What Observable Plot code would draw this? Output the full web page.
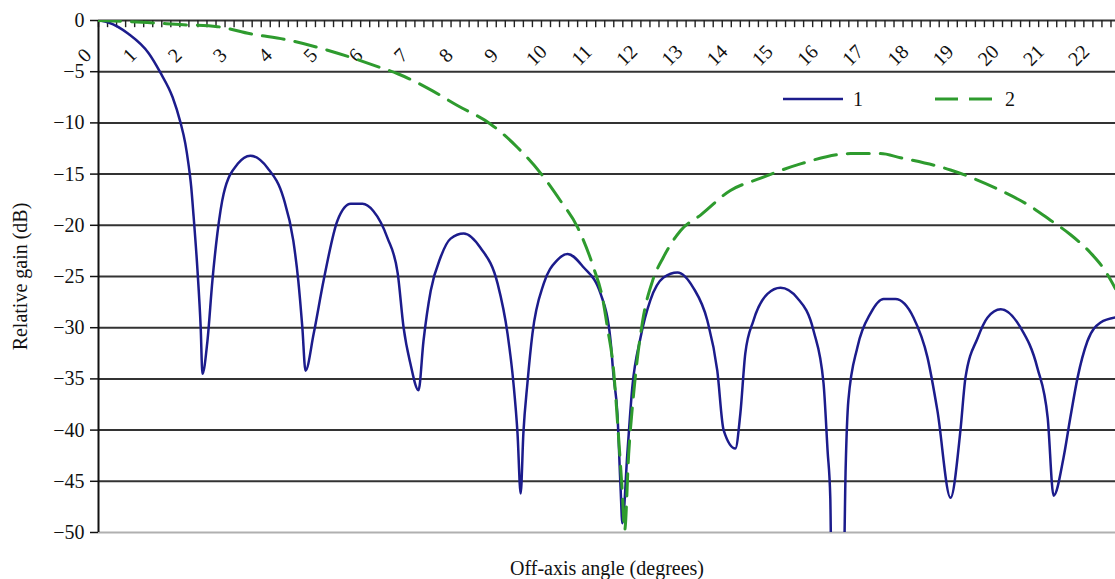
<!DOCTYPE html>
<html>
<head>
<meta charset="utf-8">
<script src="https://cdn.jsdelivr.net/npm/d3@7"></script>
<script src="https://cdn.jsdelivr.net/npm/@observablehq/plot@0.6"></script>
<style>
  body { margin: 0; background: #fff; font-family: "Liberation Serif", "Times New Roman", serif; }
  #wrap { position: relative; width: 1115px; height: 579px; }
  #legend { position: absolute; left: 775px; top: 85px; }
</style>
</head>
<body>
<div id="wrap"></div>
<script>
// ---- Data ----
const seriesNames = ["1", "2"];
const seriesColors = ["#1c1c8c", "#2e9b2e"];

// Series 1 (blue, solid)
const blueAngle = [0.04, 0.22, 0.66, 1.11, 1.37, 1.64, 1.81, 1.92, 1.99, 2.05, 2.10, 2.19, 2.26, 2.30, 2.41, 2.52, 2.63, 2.77, 3.08, 3.36, 3.74, 4.09, 4.31, 4.42, 4.51, 4.58, 4.76, 4.98, 5.29, 5.58, 5.84, 6.08, 6.39, 6.62, 6.75, 6.90, 7.08, 7.19, 7.35, 7.57, 7.79, 8.08, 8.45, 8.83, 9.05, 9.18, 9.27, 9.34, 9.40, 9.49, 9.60, 9.85, 10.15, 10.38, 10.73, 11.11, 11.33, 11.39, 11.48, 11.55, 11.59, 11.70, 11.81, 11.99, 12.21, 12.50, 12.81, 13.16, 13.47, 13.69, 13.83, 14.09, 14.20, 14.31, 14.49, 14.80, 15.09, 15.46, 15.82, 16.04, 16.13, 16.19, 16.22, 16.48, 16.53, 16.59, 16.79, 17.08, 17.37, 17.63, 18.03, 18.34, 18.56, 18.85, 19.07, 19.18, 19.45, 19.67, 19.96, 20.40, 20.77, 21.00, 21.13, 21.35, 21.50, 21.66, 21.88, 22.17, 22.50];
const blueGain  = [0, -0.2, -1.3, -3.2, -5.1, -7.5, -9.9, -12.0, -14.0, -16.2, -18.9, -24.4, -29.9, -34.5, -31.3, -25.4, -20.8, -16.9, -14.0, -13.2, -14.4, -17.3, -21.5, -25.4, -30.0, -34.2, -30.6, -25.4, -19.5, -17.9, -17.9, -18.6, -21.2, -24.7, -30.0, -33.5, -36.1, -31.3, -26.4, -23.1, -21.3, -20.8, -22.2, -25.7, -30.6, -35.4, -40.3, -46.2, -40.3, -35.4, -30.6, -25.7, -23.4, -22.8, -24.1, -26.7, -31.3, -34.5, -38.4, -45.6, -49.1, -42.3, -35.8, -31.0, -27.3, -25.1, -24.6, -26.1, -29.3, -34.2, -40.0, -41.8, -38.4, -32.5, -29.3, -26.7, -26.1, -27.1, -30.3, -35.4, -42.0, -46.6, -55.0, -55.0, -43.7, -37.1, -31.9, -28.6, -27.2, -27.2, -29.0, -32.9, -38.1, -46.6, -40.0, -34.9, -31.0, -29.0, -28.2, -30.0, -33.9, -38.8, -46.4, -42.7, -38.8, -34.9, -31.3, -29.5, -29.0];

// Series 2 (green, dashed)
const greenAngle = [0, 1.08, 1.81, 2.63, 3.36, 4.18, 4.91, 6.24, 6.62, 7.28, 7.94, 8.67, 9.27, 9.78, 10.22, 10.60, 10.95, 11.15, 11.26, 11.39, 11.50, 11.59, 11.64, 11.73, 11.84, 12.04, 12.26, 12.50, 12.88, 13.32, 13.98, 14.65, 15.53, 16.64, 17.30, 17.74, 18.85, 19.96, 20.60, 21.06, 21.50, 21.95, 22.25, 22.50];
const greenGain  = [0, -0.2, -0.4, -0.6, -1.3, -1.9, -2.7, -4.6, -5.2, -6.6, -8.3, -10.1, -12.4, -14.9, -17.6, -20.2, -24.1, -27.1, -30.0, -33.9, -40.3, -46.2, -49.8, -42.3, -36.4, -29.3, -25.4, -23.1, -20.5, -19.0, -16.6, -15.4, -14.0, -13.0, -13.0, -13.4, -14.6, -16.6, -18.1, -19.5, -20.9, -22.7, -24.3, -26.2];

// Axis ticks
const yTicks = [0, -5, -10, -15, -20, -25, -30, -35, -40, -45, -50];
const xLabels = [0, 1, 2, 3, 4, 5, 6, 7, 8, 9, 10, 11, 12, 13, 14, 15, 16, 17, 18, 19, 20, 21, 22];
const minorTicks = d3.range(0, 113).map(i => i * 0.2);

const yTitle = "Relative gain (dB)";
const xTitle = "Off-axis angle (degrees)";

// ---- Build tables ----
const blue = blueAngle.map((a, i) => ({angle: a, gain: blueGain[i], series: seriesNames[0]}));
const green = greenAngle.map((a, i) => ({angle: a, gain: greenGain[i], series: seriesNames[1]}));

const font = '"Liberation Serif", "Times New Roman", serif';

const chart = Plot.plot({
  width: 1115,
  height: 579,
  marginLeft: 98,
  marginRight: 0,
  marginTop: 20,
  marginBottom: 47,
  style: {fontFamily: font, fontSize: "20px", color: "#111", background: "#fff"},
  x: {domain: [0, 22.5], axis: null},
  y: {domain: [-50, 0], axis: null},
  marks: [
    Plot.ruleY(yTicks.filter(d => d > -50), {stroke: "#333", strokeWidth: 2}),
    Plot.ruleY([-50], {stroke: "#b0b0b0", strokeWidth: 2}),
    Plot.ruleX(minorTicks, {y1: 0, y2: -0.7, stroke: "#222", strokeWidth: 1.4}),
    Plot.ruleX([0], {stroke: "#111", strokeWidth: 2}),
    Plot.axisY({ticks: yTicks, tickSize: 8, tickPadding: 6, label: null, fontSize: 20, stroke: "#111", strokeWidth: 1.5}),
    Plot.text(xLabels, {x: d => d, frameAnchor: "top", dy: 35, dx: -14, rotate: -45, text: d => String(d), fontSize: 20, fill: "#111", textAnchor: "middle", lineAnchor: "middle"}),
    Plot.line(blue, {x: "angle", y: "gain", stroke: seriesColors[0], strokeWidth: 2.5, curve: "monotone-x", clip: true}),
    Plot.line(green, {x: "angle", y: "gain", stroke: seriesColors[1], strokeWidth: 3, strokeDasharray: "22,11", curve: "monotone-x", clip: true}),
    Plot.text([yTitle], {frameAnchor: "left", dx: -78, rotate: -90, fontSize: 20, fill: "#111", textAnchor: "middle", lineAnchor: "middle"}),
    Plot.text([xTitle], {frameAnchor: "bottom", dy: 36, fontSize: 20, fill: "#111", textAnchor: "middle", lineAnchor: "middle"})
  ]
});

const wrap = document.getElementById("wrap");
wrap.appendChild(chart);

// Legend (inside plot area, as in the reference)
const ns = "http://www.w3.org/2000/svg";
const leg = document.createElementNS(ns, "svg");
leg.setAttribute("id", "legend");
leg.setAttribute("width", "250");
leg.setAttribute("height", "30");
const items = [
  {x: 8, dash: null},
  {x: 160, dash: "23,11"}
];
seriesNames.forEach((name, i) => {
  const line = document.createElementNS(ns, "line");
  line.setAttribute("x1", items[i].x);
  line.setAttribute("x2", items[i].x + 60);
  line.setAttribute("y1", 14);
  line.setAttribute("y2", 14);
  line.setAttribute("stroke", seriesColors[i]);
  line.setAttribute("stroke-width", i === 0 ? 2.5 : 3);
  if (items[i].dash) line.setAttribute("stroke-dasharray", items[i].dash);
  leg.appendChild(line);
  const t = document.createElementNS(ns, "text");
  t.setAttribute("x", items[i].x + 70);
  t.setAttribute("y", 21);
  t.setAttribute("font-family", font);
  t.setAttribute("font-size", "20");
  t.setAttribute("fill", "#111");
  t.textContent = name;
  leg.appendChild(t);
});
wrap.appendChild(leg);
</script>
</body>
</html>
